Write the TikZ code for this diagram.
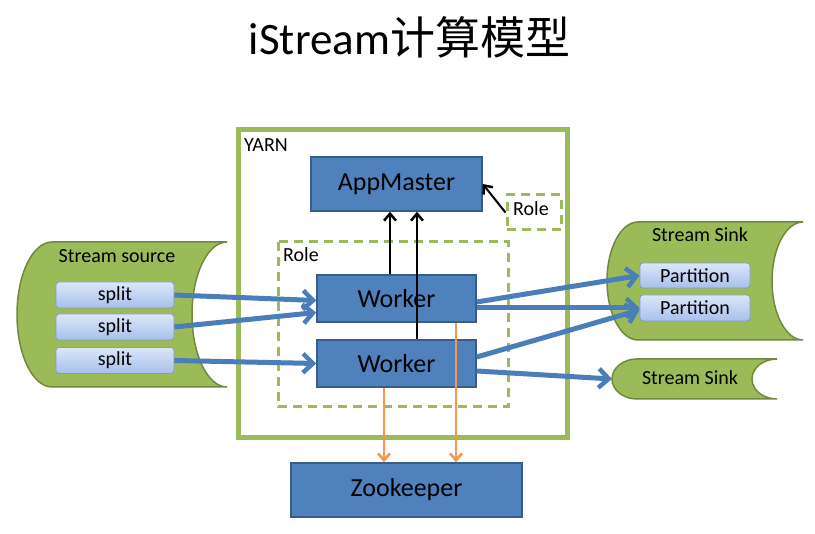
\documentclass[tikz,border=0pt]{standalone}
\usepackage{fontspec}
\setmainfont{Carlito}
\newfontfamily\cjk{Noto Sans CJK SC}
\usetikzlibrary{arrows.meta}
\definecolor{ygreen}{HTML}{9BBB59}
\definecolor{ygreenD}{HTML}{71893F}
\definecolor{bbox}{HTML}{4F81BD}
\definecolor{bboxD}{HTML}{385D8A}
\definecolor{barrow}{HTML}{4A7EBB}
\definecolor{oarrow}{HTML}{F79646}
\definecolor{splitT}{HTML}{DCE6F8}
\definecolor{splitB}{HTML}{A7C0EC}
\definecolor{splitD}{HTML}{7F9BCB}
\tikzset{
  bluebox/.style={draw=bboxD, line width=1.5pt, fill=bbox, text=black,
    inner sep=0pt, font=\fontsize{26}{30}\selectfont},
  lightbox/.style={draw=splitD, line width=0.8pt, rounded corners=3pt,
    top color=splitT, bottom color=splitB, text=black, inner sep=0pt,
    font=\fontsize{20}{24}\selectfont},
  canshape/.style={draw=ygreenD, line width=1.5pt, fill=ygreen},
  rolebox/.style={draw=ygreen, line width=3pt, dash pattern=on 9pt off 6pt},
  lbl/.style={inner sep=0pt, text=black, font=\fontsize{20}{24}\selectfont},
  flowarrow/.style={draw=barrow, line width=5pt,
    -{Straight Barb[length=10pt,width=19pt,line width=4.5pt]}},
  ctrlarrow/.style={draw=black, line width=2pt,
    -{Straight Barb[length=7pt,width=12pt,line width=2.5pt]}},
  zkarrow/.style={draw=oarrow, line width=2pt,
    -{Straight Barb[length=7pt,width=12pt,line width=2.5pt]}}
}
\begin{document}
\begin{tikzpicture}[x=1pt,y=-1pt]
\useasboundingbox[fill=white] (0,0) rectangle (815,534);

% title
\node[anchor=base, inner sep=0pt, font=\fontsize{45}{50}\selectfont] (title) at (409.5,55) {iStream{\cjk 计算模型}};

% YARN container
\draw[draw=ygreen, line width=5pt, fill=white] (238,130) rectangle (567,438);
\node[anchor=base west, inner sep=0pt, font=\fontsize{20}{24}\selectfont] (yarn) at (244,152) {YARN};

% role boxes
\draw[rolebox] (278,242) rectangle (508,407);
\node[lbl, anchor=base west] (rolebig) at (283,262) {Role};
\node[rolebox, minimum width=54pt, minimum height=35pt, inner sep=0pt] (rolesmall) at (534,212.5) {};
\node[lbl, anchor=base west] (rolesmalllbl) at (513,216) {Role};

% stream source can
\draw[canshape] (227,242) -- (52,242) arc[start angle=270, end angle=90, x radius=35, y radius=72.5]
  -- (227,387) arc[start angle=90, end angle=270, x radius=35, y radius=72.5] -- cycle;
\node[lbl, anchor=base] (srclbl) at (117,263) {Stream source};
\node[lightbox, minimum width=118pt, minimum height=26pt] (s1) at (115,295) {split};
\node[lightbox, minimum width=118pt, minimum height=26pt] (s2) at (115,327) {split};
\node[lightbox, minimum width=118pt, minimum height=26pt] (s3) at (115,360.5) {split};

% stream sink (big)
\draw[canshape] (803,222) -- (638,222) arc[start angle=270, end angle=90, x radius=31, y radius=59]
  -- (803,340) arc[start angle=90, end angle=270, x radius=31, y radius=59] -- cycle;
\node[lbl, anchor=base] (sink1lbl) at (700,242) {Stream Sink};
\node[lightbox, minimum width=110pt, minimum height=25pt] (p1) at (695,275.5) {Partition};
\node[lightbox, minimum width=110pt, minimum height=26pt] (p2) at (695,308) {Partition};

% stream sink (small)
\draw[canshape] (777,359) -- (637,359) arc[start angle=270, end angle=90, x radius=25, y radius=20]
  -- (777,399) arc[start angle=90, end angle=270, x radius=25, y radius=20] -- cycle;
\coordinate (sink2tip) at (612,379);
\node[lbl, anchor=base] (sink2lbl) at (690,385) {Stream Sink};

% blue boxes
\node[bluebox, minimum width=171pt, minimum height=54pt] (am) at (396.5,184) {AppMaster};
\node[bluebox, minimum width=159pt, minimum height=47pt] (w1) at (396.5,298.5) {Worker};
\node[bluebox, minimum width=159pt, minimum height=47pt] (w2) at (396.5,363.5) {Worker};
\node[bluebox, minimum width=231pt, minimum height=54pt] (zk) at (406.5,490) {Zookeeper};

% input flows
\draw[flowarrow] (s1.east) -- ([yshift=-2pt]w1.west);
\draw[flowarrow] (s2.east) -- ([yshift=-14pt]w1.west);
\draw[flowarrow] (s3.east) -- ([yshift=0pt]w2.west);

% output flows
\draw[flowarrow] ([yshift=-3.5pt]w1.east) -- (p1.west);
\draw[flowarrow] ([yshift=-9.5pt]w1.east) -- (p2.west);
\draw[flowarrow] ([yshift=6.5pt]w2.east) -- ([yshift=-2pt]p2.west);
\draw[flowarrow] ([yshift=-7.5pt]w2.east) -- (sink2tip);

% control arrows
\draw[ctrlarrow] ([xshift=-6.5pt]w1.north) -- ([xshift=-6.5pt]am.south);
\draw[ctrlarrow] ([xshift=20.5pt]w2.north) -- ([xshift=20.5pt]am.south);
\draw[ctrlarrow] (rolesmall.west) -- (am.east);

% zookeeper arrows
\draw[zkarrow] ([xshift=-12.5pt]w2.south) -- ([xshift=-22.5pt]zk.north);
\draw[zkarrow] ([xshift=59.5pt]w1.south) -- ([xshift=49.5pt]zk.north);
\end{tikzpicture}
\end{document}
